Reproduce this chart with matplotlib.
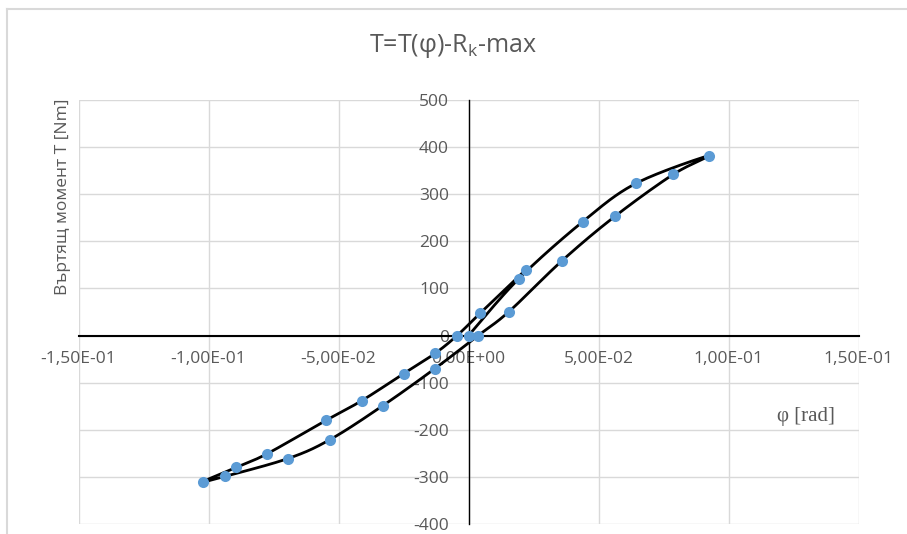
import numpy as np
import matplotlib.pyplot as plt
from matplotlib.lines import Line2D
from matplotlib.ticker import FuncFormatter

# hysteresis loop, points in the order they are connected
phi = [0.0, 0.0194, 0.044, 0.0644, 0.0925, 0.0787, 0.0563, 0.036, 0.0156, 0.0037,
       -0.0129, -0.033, -0.0533, -0.0694, -0.0937, -0.102, -0.0894, -0.0775,
       -0.0548, -0.041, -0.025, -0.0129, -0.0044, 0.0044, 0.0221]
T = [0, 121, 242, 323, 382, 342, 253, 159, 51, 0,
     -70, -149, -221, -261, -299, -310, -280, -251,
     -180, -138, -81, -38, 0, 47, 140]

x_ticks = [-0.15, -0.10, -0.05, 0.0, 0.05, 0.10, 0.15]
y_ticks = [-400, -300, -200, -100, 0, 100, 200, 300, 400, 500]

grey = '#595959'


def smooth(xs, ys, n=20):
    # catmull-rom like the excel "smoothed line"
    p = np.column_stack([xs, ys]).astype(float)
    p = np.vstack([p[0], p, p[-1]])
    out = []
    for i in range(1, len(p) - 2):
        p0, p1, p2, p3 = p[i - 1], p[i], p[i + 1], p[i + 2]
        c1 = p1 + (p2 - p0) / 6
        c2 = p2 - (p3 - p1) / 6
        t = np.linspace(0, 1, n)[:, None]
        seg = (1 - t)**3 * p1 + 3 * (1 - t)**2 * t * c1 + 3 * (1 - t) * t**2 * c2 + t**3 * p2
        out.append(seg)
    out = np.vstack(out)
    return out[:, 0], out[:, 1]


def sci_comma(v, pos):
    s = f"{v:.2E}".replace('.', ',')
    if abs(v) < 1e-12:
        s = "0,00E+00"
    return s


plt.rcParams['font.family'] = ['Open Sans', 'DejaVu Sans']
plt.rcParams['axes.unicode_minus'] = False

fig = plt.figure(figsize=(9.07, 5.34), dpi=100)
ax = fig.add_axes([78.5 / 907, 1 - 524 / 534, 780 / 907, 424 / 534])

sx, sy = smooth(phi, T)
ax.plot(sx, sy, color='black', lw=2, zorder=3)
ax.plot(phi, T, 'o', color='#5B9BD5', markersize=8, markeredgewidth=0, zorder=4)

ax.set_xlim(-0.15, 0.15)
ax.set_ylim(-400, 500)
ax.set_xticks(x_ticks)
ax.set_yticks(y_ticks)
ax.xaxis.set_major_formatter(FuncFormatter(sci_comma))
ax.grid(True, color='#D9D9D9', lw=1)
ax.set_axisbelow(True)

for s in ['top', 'right']:
    ax.spines[s].set_visible(False)
ax.spines['left'].set_position(('data', 0))
ax.spines['bottom'].set_position(('data', 0))
ax.spines['left'].set_color('black')
ax.spines['bottom'].set_color('black')
ax.spines['left'].set_linewidth(1)
ax.spines['bottom'].set_linewidth(1.5)
ax.spines['left'].set_zorder(2)
ax.spines['bottom'].set_zorder(2)
ax.tick_params(axis='both', length=0, labelsize=12.5, labelcolor=grey)
ax.tick_params(axis='x', pad=11)
ax.tick_params(axis='y', pad=14)

fig.text(453 / 907, 1 - 46 / 534, 'T=T(φ)-R$_\\mathregular{k}$-max', ha='center', va='center',
         fontsize=18, color=grey)
fig.text(63 / 907, 1 - 197 / 534, 'Въртящ момент T [Nm]', rotation=90, ha='center', va='center',
         fontsize=12.5, color=grey)
fig.text(806 / 907, 1 - 416 / 534, 'φ [rad]', ha='center', va='center',
         fontsize=15, color=grey, family=['Liberation Serif', 'DejaVu Serif'])

# chart frame (cut by the image edge)
fig.add_artist(Line2D([7 / 907, 7 / 907], [0, 1 - 9 / 534], transform=fig.transFigure,
                      color='#D9D9D9', lw=1.5))
fig.add_artist(Line2D([7 / 907, 1], [1 - 9 / 534, 1 - 9 / 534], transform=fig.transFigure,
                      color='#D9D9D9', lw=1.5))

fig.savefig('out.png', dpi=100)
